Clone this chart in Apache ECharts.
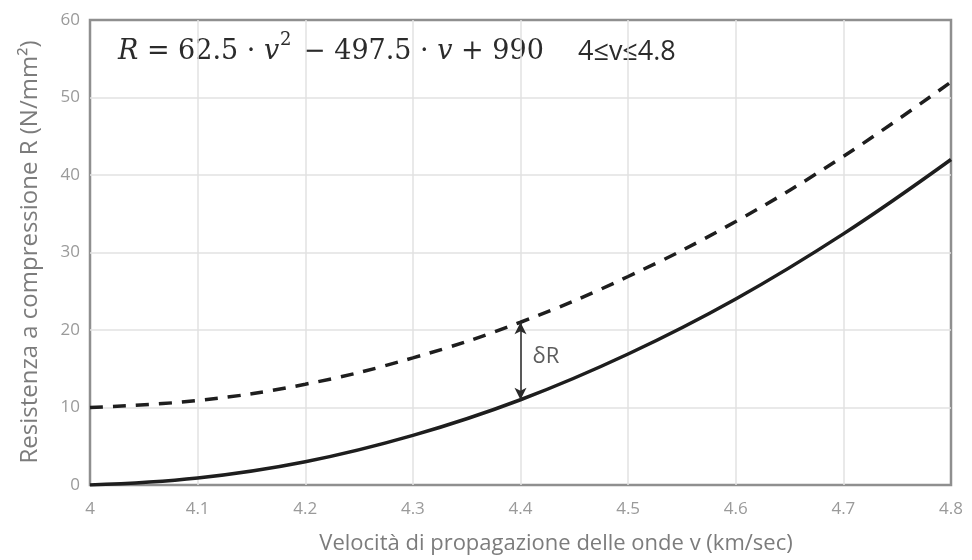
<!DOCTYPE html>
<html>
<head>
<meta charset="utf-8">
<script src="https://cdn.jsdelivr.net/npm/echarts@6/dist/echarts.min.js"></script>
<style>
  html, body { margin: 0; padding: 0; background: #fff; }
  #chart { width: 972px; height: 560px; }
</style>
</head>
<body>
<div id="chart"></div>
<script>
// Wave velocity (km/s) and compressive strength (N/mm²)
const velocity = [4.0, 4.1, 4.2, 4.3, 4.4, 4.5, 4.6, 4.7, 4.8];
const strengthCurve = [0, 0.9, 3.0, 6.4, 11.0, 16.9, 24.0, 32.4, 42.0];
const strengthUpper = [10, 10.9, 13.0, 16.4, 21.0, 26.9, 34.0, 42.4, 52.0];
// δR marker position
const deltaV = 4.4;
const deltaLow = 11.0;
const deltaHigh = 21.0;
const deltaLabel = 'δR';
const xTitle = 'Velocità di propagazione delle onde v (km/sec)';
const yTitle = 'Resistenza a compressione R (N/mm²)';
const rangeText = '4≤v≤4.8';

const chart = echarts.init(document.getElementById('chart'));

const pairs = (xs, ys) => xs.map((x, i) => [x, ys[i]]);
const ink = '#2b2b2b';
const mathFont = 'DejaVu Serif';
const eqRich = {
  i: { fontFamily: mathFont, fontStyle: 'italic', fontSize: 27, fill: ink },
  n: { fontFamily: mathFont, fontSize: 27, fill: ink }
};

chart.setOption({
  animation: false,
  grid: { left: 90, right: 21, top: 20, bottom: 75, show: true, borderColor: '#8f8f8f', borderWidth: 2.5 },
  xAxis: {
    type: 'value', min: 4, max: 4.8, interval: 0.1,
    axisLine: { show: false }, axisTick: { show: false },
    axisLabel: { color: '#9a9a9a', fontSize: 17, fontFamily: 'Open Sans', margin: 16,
      formatter: v => String(Math.round(v * 10) / 10) },
    splitLine: { showMinLine: false, showMaxLine: false, lineStyle: { color: '#e2e2e2', width: 1.5 } }
  },
  yAxis: {
    type: 'value', min: 0, max: 60, interval: 10,
    axisLine: { show: false }, axisTick: { show: false },
    axisLabel: { color: '#9a9a9a', fontSize: 17, fontFamily: 'Open Sans', margin: 10 },
    splitLine: { showMinLine: false, showMaxLine: false, lineStyle: { color: '#e2e2e2', width: 1.5 } }
  },
  series: [
    {
      type: 'line', data: pairs(velocity, strengthUpper), smooth: 0.4, symbol: 'none', z: 3,
      lineStyle: { color: '#1e1e1e', width: 3.5, type: [13, 10] }
    },
    {
      type: 'line', data: pairs(velocity, strengthCurve), smooth: 0.4, symbol: 'none', z: 3,
      lineStyle: { color: '#1e1e1e', width: 3.5 }
    },
    {
      type: 'line', data: [], symbol: 'none',
      markLine: {
        silent: true, symbol: ['arrow', 'arrow'], symbolSize: [9, 12],
        lineStyle: { color: '#2a2a2a', width: 1.5, type: 'solid' },
        label: { show: false },
        data: [[{ coord: [deltaV, deltaHigh] }, { coord: [deltaV, deltaLow] }]]
      }
    },
    {
      type: 'scatter', symbolSize: 0,
      data: [[deltaV, (deltaLow + deltaHigh) / 2]],
      label: { show: true, formatter: deltaLabel, position: 'right', distance: 12, offset: [0, -4],
        color: '#333333', fontSize: 22, fontFamily: 'Open Sans' }
    }
  ],
  graphic: [
    {
      type: 'text', x: 118, y: 52,
      style: { text: '{i|R}{n| = 62.5 · }{i|v}', rich: eqRich, verticalAlign: 'middle' }
    },
    {
      type: 'text', x: 280, y: 40,
      style: { text: '2', fontFamily: mathFont, fontSize: 18, fill: ink, verticalAlign: 'middle' }
    },
    {
      type: 'text', x: 303, y: 52,
      style: { text: '{n|− 497.5 · }{i|v}{n| + 990}', rich: eqRich, verticalAlign: 'middle' }
    },
    {
      type: 'text', x: 578, y: 52,
      style: { text: rangeText, fontFamily: 'Open Sans', fontSize: 27, fill: ink, verticalAlign: 'middle' }
    },
    {
      type: 'text', x: 556, y: 544,
      style: { text: xTitle, fontFamily: 'Open Sans', fontSize: 22, fill: '#7c7c7c', align: 'center', verticalAlign: 'middle' }
    },
    {
      type: 'text', x: 30, y: 252, rotation: Math.PI / 2,
      style: { text: yTitle, fontFamily: 'Open Sans', fontSize: 24, fill: '#7c7c7c', align: 'center', verticalAlign: 'middle' }
    }
  ]
});
</script>
</body>
</html>
